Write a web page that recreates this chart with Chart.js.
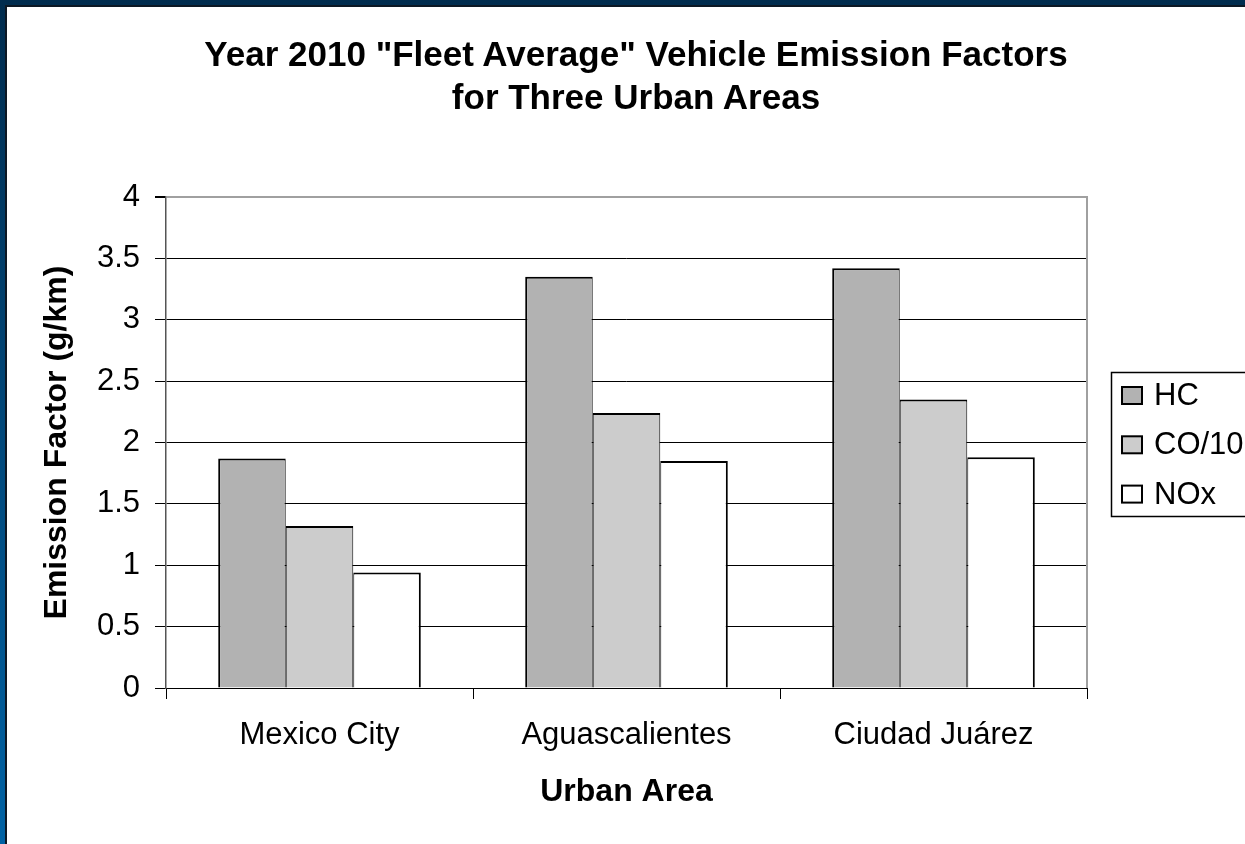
<!DOCTYPE html>
<html>
<head>
<meta charset="utf-8">
<script src="https://cdn.jsdelivr.net/npm/chart.js@4"></script>
<style>
  body {
    margin: 0;
    width: 1245px;
    height: 844px;
    overflow: hidden;
    position: relative;
    background: linear-gradient(#002c4e, #0062a4);
  }
  #panel {
    position: absolute;
    left: 5px; top: 5px; right: 0; bottom: 0;
    background: #fff;
    border-left: 2px solid #0c1824;
    border-top: 2px solid #0c1824;
  }
  #title {
    position: absolute;
    left: 136px; top: 32px; width: 1000px;
    text-align: center;
    font: bold 35px/43px "Liberation Sans", Arial, sans-serif;
    color: #000;
  }
  #chart { position: absolute; left: 7px; top: 7px; }
</style>
</head>
<body>
<div id="panel"></div>
<canvas id="chart" width="1260" height="837" style="width:1260px;height:837px"></canvas>
<div id="title">Year 2010 "Fleet Average" Vehicle Emission Factors<br>for Three Urban Areas</div>
<script>
// categories and series
const categories = ['Mexico City', 'Aguascalientes', 'Ciudad Juárez'];
const seriesNames = ['HC', 'CO/10', 'NOx'];
const hcValues = [1.87, 3.35, 3.42];
const coValues = [1.32, 2.24, 2.35];
const noxValues = [0.94, 1.85, 1.88];
const yTickLabels = ['0', '0.5', '1', '1.5', '2', '2.5', '3', '3.5', '4'];

const FONT = '"Liberation Sans", Arial, sans-serif';

// legend box on the right (it runs off the slide edge like the original)
const legendBox = {
    id: 'legendBox',
    afterDraw(chart) {
        const ctx = chart.ctx;
        ctx.save();
        ctx.strokeStyle = '#000';
        ctx.lineWidth = 1.5;
        ctx.strokeRect(1104.5, 365.5, 200, 144);
        ctx.font = '31px ' + FONT;
        ctx.textBaseline = 'middle';
        chart.data.datasets.forEach((ds, i) => {
            const y = 388.5 + i * 49.3;
            ctx.fillStyle = ds.backgroundColor;
            ctx.fillRect(1115, y - 8.5, 20, 17);
            ctx.lineWidth = 2;
            ctx.strokeRect(1115, y - 8.5, 20, 17);
            ctx.fillStyle = '#000';
            ctx.fillText(ds.label, 1147, y + 1);
        });
        ctx.restore();
    }
};

// grey right edge of the plot area
const plotFrame = {
    id: 'plotFrame',
    beforeDatasetsDraw(chart) {
        const { top, right, bottom } = chart.chartArea;
        const ctx = chart.ctx;
        ctx.save();
        ctx.strokeStyle = '#a0a0a0';
        ctx.lineWidth = 2;
        ctx.beginPath();
        ctx.moveTo(right, top - 1);
        ctx.lineTo(right, bottom);
        ctx.stroke();
        ctx.restore();
    }
};

const ctx = document.getElementById('chart');
const chart = new Chart(ctx, {
    type: 'bar',
    data: {
        labels: categories,
        datasets: [{
            label: seriesNames[0],
            data: hcValues,
            backgroundColor: '#b2b2b2',
            borderColor: '#000',
            borderWidth: { top: 2, left: 2, right: 1, bottom: 0 }
        }, {
            label: seriesNames[1],
            data: coValues,
            backgroundColor: '#cccccc',
            borderColor: '#000',
            borderWidth: { top: 2, left: 1, right: 1, bottom: 0 }
        }, {
            label: seriesNames[2],
            data: noxValues,
            backgroundColor: '#ffffff',
            borderColor: '#000',
            borderWidth: { top: 2, left: 1, right: 2, bottom: 0 }
        }]
    },
    options: {
        responsive: false,
        animation: false,
        layout: { padding: { top: 190, right: 180, bottom: 0, left: 0 } },
        datasets: {
            bar: { categoryPercentage: 0.66, barPercentage: 1.0, inflateAmount: 0 }
        },
        plugins: {
            legend: { display: false },
            title: { display: false },
            tooltip: { enabled: false }
        },
        scales: {
            x: {
                afterFit: (s) => { s.height = 156; },
                grid: { drawOnChartArea: false, tickLength: 11, color: '#000' },
                border: { color: '#000', width: 1 },
                ticks: { color: '#000', padding: 18, font: { family: FONT, size: 31 } },
                title: {
                    display: true,
                    text: 'Urban Area',
                    color: '#000',
                    font: { family: FONT, size: 32, weight: 'bold', lineHeight: 1.2 },
                    padding: { top: 0, bottom: 33 }
                }
            },
            y: {
                min: 0,
                max: 4,
                afterFit: (s) => { s.width = 159; },
                grid: {
                    tickLength: 11,
                    tickColor: '#000',
                    color: (c) => c.tick && c.tick.value === 4 ? '#a0a0a0' : '#000',
                    lineWidth: (c) => c.tick && c.tick.value === 4 ? 2 : 1
                },
                border: { color: '#555', width: 1.5 },
                ticks: {
                    stepSize: 0.5,
                    color: '#000',
                    padding: 15,
                    font: { family: FONT, size: 31 },
                    callback: (value, index) => yTickLabels[index]
                },
                title: {
                    display: true,
                    text: 'Emission Factor (g/km)',
                    color: '#000',
                    font: { family: FONT, size: 32, weight: 'bold', lineHeight: 1.2 },
                    padding: { top: 31, bottom: 0 }
                }
            }
        }
    },
    plugins: [plotFrame, legendBox]
});
</script>
</body>
</html>
